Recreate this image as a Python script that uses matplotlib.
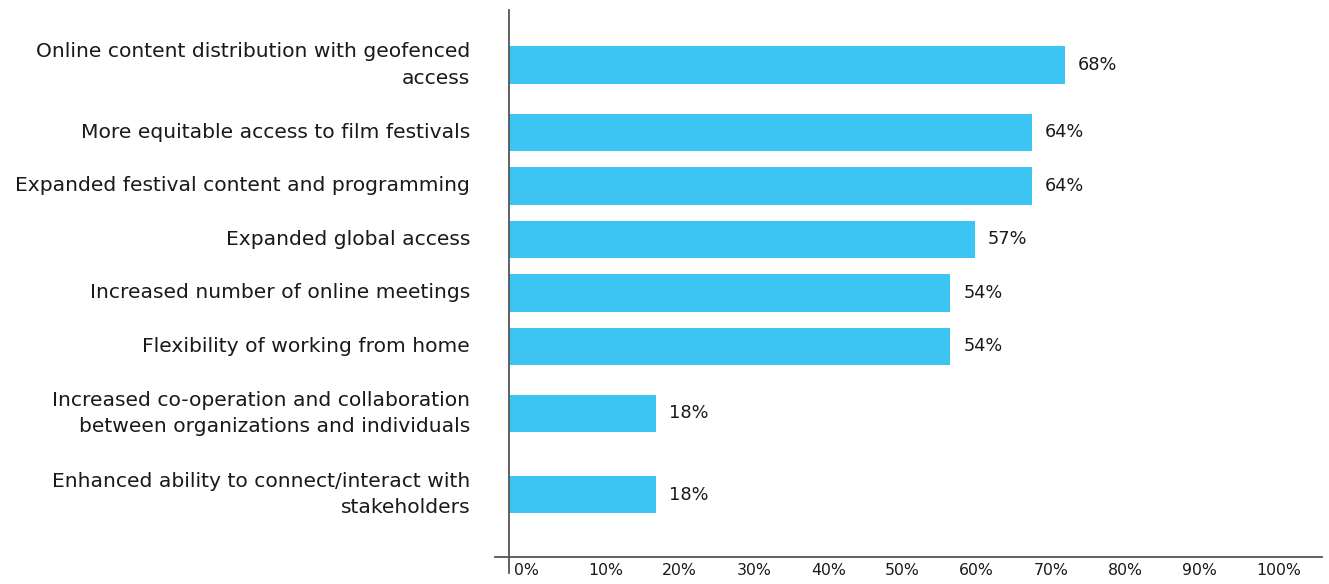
import numpy as np
import matplotlib
matplotlib.use("Agg")
import matplotlib.pyplot as plt
from matplotlib.ticker import FixedLocator, FuncFormatter

plt.rcParams['font.family'] = ['DejaVu Sans']

# survey answers, top to bottom
categories = [
    "Online content distribution with geofenced\naccess",
    "More equitable access to film festivals",
    "Expanded festival content and programming",
    "Expanded global access",
    "Increased number of online meetings",
    "Flexibility of working from home",
    "Increased co-operation and collaboration\nbetween organizations and individuals",
    "Enhanced ability to connect/interact with\nstakeholders",
]
shares = [68, 64, 64, 57, 54, 54, 18, 18]
tick_values = [0, 10, 20, 30, 40, 50, 60, 70, 80, 90, 100]

BAR_COLOR = "#3cc5f2"
TEXT_COLOR = "#1a1a1a"
AXIS_COLOR = "#555555"

# rows with wrapped labels get more room
ROW = 53.5
EXTRA_LINE = 27.5
PAD_TOP = 14.5
PAD_BOTTOM = 22
heights = [ROW + EXTRA_LINE * c.count("\n") for c in categories]
centers = []
pos = PAD_TOP
for h in heights:
    centers.append(pos + h / 2)
    pos += h
y_max = pos + PAD_BOTTOM
BAR_H = 37.5

XMAX = 99.5

fig = plt.figure(figsize=(13.29, 5.84), dpi=100)
ax = fig.add_axes([509 / 1329, 27 / 584, 813 / 1329, 547 / 584])

ax.barh(centers, shares, height=BAR_H, color=BAR_COLOR, zorder=2)
ax.set_xlim(0, XMAX)
ax.set_ylim(y_max, 0)

for y, v in zip(centers, shares):
    ax.annotate(f"{v}%", (v, y), xytext=(9.5, 0), textcoords="offset points",
                va="center", ha="left", fontsize=12.8, color=TEXT_COLOR)

ax.set_yticks(centers)
ax.set_yticklabels(categories, fontsize=14.6, color=TEXT_COLOR,
                   linespacing=1.5, va="center")
ax.tick_params(axis="y", length=0, pad=28)
ax.set_xticks([])

for s in ax.spines.values():
    s.set_visible(False)

# axis lines: vertical one runs past the baseline, baseline starts left of it
ax.plot([0, 0], [-16 / 547, 1], transform=ax.transAxes, color=AXIS_COLOR,
        lw=1.3, clip_on=False, zorder=3)
ax.plot([-14 / 813, 1], [0, 0], transform=ax.transAxes, color=AXIS_COLOR,
        lw=1.3, clip_on=False, zorder=3)

# percentage scale along the baseline
f0, f1 = 0.006, 0.919


def to_scale(x):
    return (np.asarray(x) / XMAX - f0) / (f1 - f0) * 100


def from_scale(v):
    return (f0 + (f1 - f0) * np.asarray(v) / 100) * XMAX


sec = ax.secondary_xaxis("bottom", functions=(to_scale, from_scale))
sec.xaxis.set_major_locator(FixedLocator(tick_values))
sec.xaxis.set_major_formatter(FuncFormatter(lambda v, p: f"{v:.0f}%"))
sec.tick_params(length=0, pad=4, labelsize=11.3, labelcolor=TEXT_COLOR)
for lab in sec.get_xticklabels():
    lab.set_ha("left")
sec.spines["bottom"].set_visible(False)

fig.savefig("out.png", dpi=100)
